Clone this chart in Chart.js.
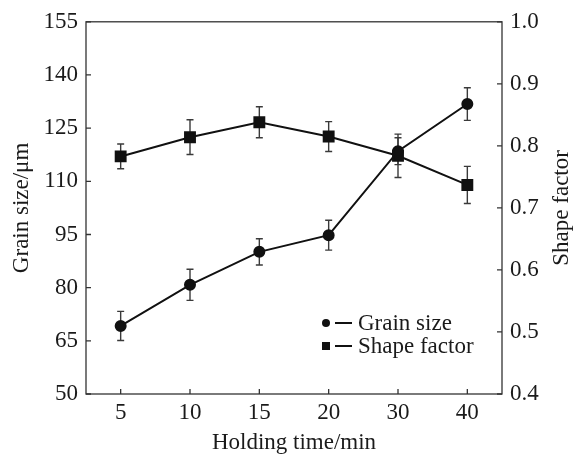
<!DOCTYPE html>
<html>
<head>
<meta charset="utf-8">
<script src="https://cdn.jsdelivr.net/npm/chart.js@4.4.1/dist/chart.umd.min.js"></script>
<style>
  html, body { margin: 0; padding: 0; background: #fff; }
  #wrap { width: 576px; height: 459px; }
</style>
</head>
<body>
<div id="wrap"><canvas id="chart" width="576" height="459"></canvas></div>
<script>
// holding time categories (min)
const holdingTimes = ['5', '10', '15', '20', '30', '40'];

// grain size (um) with error
const grainSize    = [69.2, 80.8, 90.1, 94.8, 118.5, 131.8];
const grainErr     = [4.1, 4.4, 3.7, 4.2, 3.8, 4.6];

// shape factor with error
const shapeFactor  = [0.783, 0.814, 0.838, 0.815, 0.784, 0.737];
const shapeErr     = [0.020, 0.028, 0.025, 0.024, 0.035, 0.030];

const leftTicks  = { min: 50, max: 155, step: 15 };
const rightTicks = { min: 0.4, max: 1.0, step: 0.1 };

const FONT     = '"Liberation Serif", "Times New Roman", serif';
const INK      = '#1a1a1a';
const AXIS_INK = '#333';

// ─── plugins ──────────────────────────────────────────────────────────────────

// vertical error bars with caps, drawn under the markers
const errorBars = {
  id: 'errorBars',
  beforeDatasetsDraw(chart) {
    const ctx = chart.ctx;
    const xs = chart.scales.x;
    ctx.save();
    ctx.strokeStyle = '#3a3a3a';
    ctx.lineWidth = 1.4;
    chart.data.datasets.forEach(ds => {
      const ys = chart.scales[ds.yAxisID];
      ds.data.forEach((v, i) => {
        const x  = xs.getPixelForValue(i);
        const y1 = ys.getPixelForValue(v + ds.err[i]);
        const y2 = ys.getPixelForValue(v - ds.err[i]);
        ctx.beginPath();
        ctx.moveTo(x, y1); ctx.lineTo(x, y2);
        ctx.moveTo(x - 3.5, y1); ctx.lineTo(x + 3.5, y1);
        ctx.moveTo(x - 3.5, y2); ctx.lineTo(x + 3.5, y2);
        ctx.stroke();
      });
    });
    ctx.restore();
  },
};

// box around the plot, inward ticks, axis titles and the legend
const frame = {
  id: 'frame',
  afterDraw(chart) {
    const { ctx, chartArea: a, scales } = chart;
    ctx.save();
    ctx.strokeStyle = AXIS_INK;
    ctx.lineWidth = 1.3;
    ctx.strokeRect(a.left, a.top, a.right - a.left, a.bottom - a.top);

    ctx.beginPath();
    scales.yL.ticks.forEach((t, i) => {
      const y = scales.yL.getPixelForTick(i);
      ctx.moveTo(a.left, y); ctx.lineTo(a.left + 5, y);
    });
    scales.yR.ticks.forEach((t, i) => {
      const y = scales.yR.getPixelForTick(i);
      ctx.moveTo(a.right - 5, y); ctx.lineTo(a.right, y);
    });
    scales.x.ticks.forEach((t, i) => {
      const x = scales.x.getPixelForTick(i);
      ctx.moveTo(x, a.bottom); ctx.lineTo(x, a.bottom - 5);
    });
    ctx.stroke();

    // axis titles
    const midY = (a.top + a.bottom) / 2;
    ctx.fillStyle = INK;
    ctx.font = '23px ' + FONT;
    ctx.textAlign = 'center';
    ctx.textBaseline = 'middle';
    ctx.fillText('Holding time/min', (a.left + a.right) / 2, 443);
    [[22, 'Grain size/\u03bcm'], [562, 'Shape factor']].forEach(([x, txt]) => {
      ctx.save();
      ctx.translate(x, midY);
      ctx.rotate(-Math.PI / 2);
      ctx.fillText(txt, 0, 0);
      ctx.restore();
    });

    // legend
    const lx = a.left + 240;
    const rows = [[323, 'circle', 'Grain size'], [346, 'rect', 'Shape factor']];
    ctx.textAlign = 'left';
    ctx.font = '23px ' + FONT;
    rows.forEach(([y, shape, label]) => {
      ctx.fillStyle = '#111';
      if (shape === 'circle') {
        ctx.beginPath(); ctx.arc(lx, y, 4, 0, Math.PI * 2); ctx.fill();
      } else {
        ctx.fillRect(lx - 4, y - 4, 8, 8);
      }
      ctx.strokeStyle = '#111';
      ctx.lineWidth = 2;
      ctx.beginPath(); ctx.moveTo(lx + 9, y); ctx.lineTo(lx + 26, y); ctx.stroke();
      ctx.fillStyle = INK;
      ctx.fillText(label, lx + 32, y + 1);
    });
    ctx.restore();
  },
};

// ─── chart ────────────────────────────────────────────────────────────────────

new Chart(document.getElementById('chart'), {
  type: 'line',
  data: {
    labels: holdingTimes,
    datasets: [
      {
        label: 'Grain size',
        data: grainSize,
        err: grainErr,
        yAxisID: 'yL',
        borderColor: '#111',
        backgroundColor: '#111',
        borderWidth: 2,
        pointStyle: 'circle',
        pointRadius: 5,
        tension: 0,
      },
      {
        label: 'Shape factor',
        data: shapeFactor,
        err: shapeErr,
        yAxisID: 'yR',
        borderColor: '#111',
        backgroundColor: '#111',
        borderWidth: 2,
        pointStyle: 'rect',
        pointRadius: 7,
        tension: 0,
      },
    ],
  },
  options: {
    responsive: false,
    animation: false,
    layout: { padding: { top: 16, left: 0, right: 0, bottom: 0 } },
    plugins: { legend: { display: false }, tooltip: { enabled: false } },
    scales: {
      x: {
        offset: true,
        grid: { display: false, drawTicks: false },
        border: { display: false },
        ticks: { color: INK, font: { family: FONT, size: 23 }, padding: 5 },
        afterFit: s => { s.height = 65; },
      },
      yL: {
        position: 'left',
        min: leftTicks.min, max: leftTicks.max,
        grid: { display: false, drawTicks: false },
        border: { display: false },
        ticks: { stepSize: leftTicks.step, color: INK, font: { family: FONT, size: 23 }, padding: 8 },
        afterFit: s => { s.width = 86; },
      },
      yR: {
        position: 'right',
        min: rightTicks.min, max: rightTicks.max,
        grid: { display: false, drawTicks: false },
        border: { display: false },
        ticks: {
          stepSize: rightTicks.step, color: INK, font: { family: FONT, size: 23 }, padding: 8,
          callback: v => v.toFixed(1),
        },
        afterFit: s => { s.width = 74; },
      },
    },
  },
  plugins: [errorBars, frame],
});
</script>
</body>
</html>
